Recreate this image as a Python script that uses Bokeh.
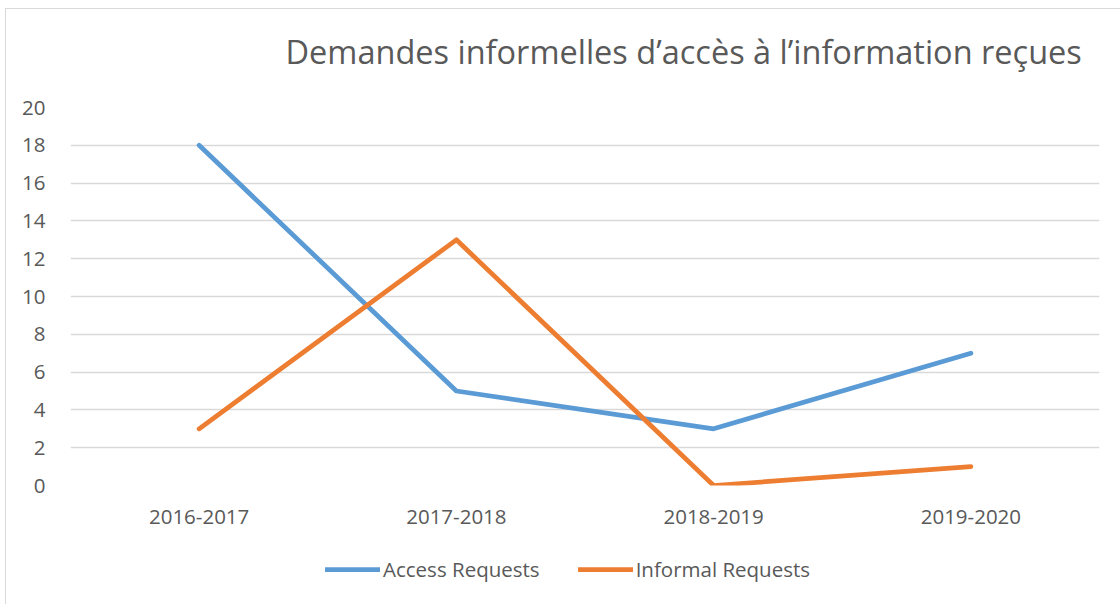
from bokeh.plotting import figure
from bokeh.layouts import column
from bokeh.models import Legend, LegendItem, Range1d, FixedTicker, ColumnDataSource, Label
from bokeh.embed import file_html
from bokeh.resources import INLINE

years = ["2016-2017", "2017-2018", "2018-2019", "2019-2020"]
access_requests = [18, 5, 3, 7]
informal_requests = [3, 13, 0, 1]
y_ticks = [0, 2, 4, 6, 8, 10, 12, 14, 16, 18, 20]
series_names = ["Access Requests", "Informal Requests"]
series_colors = ["#5B9BD5", "#ED7D31"]
title_text = "Demandes informelles d\u2019acc\u00e8s \u00e0 l\u2019information re\u00e7ues"

FONT = "Open Sans"
TXT = "#595959"
LW = 4.75
W = 1114


def strip(h):
    f = figure(width=W, height=h, output_backend="svg", toolbar_location=None,
               x_range=Range1d(100, 101), y_range=Range1d(100, 101),
               x_axis_location=None, y_axis_location=None,
               min_border_left=0, min_border_right=0, min_border_top=0, min_border_bottom=0)
    f.outline_line_color = None
    f.xgrid.grid_line_color = None
    f.ygrid.grid_line_color = None
    return f


# title strip
p0 = strip(80)
p0.add_layout(Label(x=215, y=38, x_units="screen", y_units="screen", text=title_text,
                    text_font=FONT, text_font_size="32.5px", text_color=TXT,
                    text_baseline="alphabetic", text_align="left"))

# main chart
p = figure(x_range=years, y_range=Range1d(0, 20), width=W, height=451,
           output_backend="svg", toolbar_location=None,
           min_border_left=64, min_border_right=21, min_border_top=18,
           min_border_bottom=55)
p.outline_line_color = None

src = ColumnDataSource(dict(x=years, a=access_requests, b=informal_requests))
r1 = p.line("x", "a", source=src, line_color=series_colors[0], line_width=LW,
            line_cap="round", line_join="round")
r2 = p.line("x", "b", source=src, line_color=series_colors[1], line_width=LW,
            line_cap="round", line_join="round")

for ax in (p.xaxis[0], p.yaxis[0]):
    ax.axis_line_color = None
    ax.major_tick_line_color = None
    ax.minor_tick_line_color = None
    ax.major_tick_out = 0
    ax.major_tick_in = 0
    ax.major_label_text_font = FONT
    ax.major_label_text_font_size = "20.5px"
    ax.major_label_text_color = TXT

p.yaxis[0].ticker = FixedTicker(ticks=y_ticks)
p.yaxis[0].major_label_standoff = 25
p.xaxis[0].major_label_standoff = 24

p.xgrid.grid_line_color = None
p.ygrid.grid_line_color = "#D9D9D9"
p.ygrid.grid_line_width = 1.5
p.ygrid.ticker = FixedTicker(ticks=y_ticks)

# legend strip below the chart (its lines lie outside its visible ranges)
p2 = strip(64)
src2 = ColumnDataSource(dict(i=[0, 1, 2, 3], a=access_requests, b=informal_requests))
l1 = p2.line("i", "a", source=src2, line_color=series_colors[0], line_width=LW, line_cap="round")
l2 = p2.line("i", "b", source=src2, line_color=series_colors[1], line_width=LW, line_cap="round")
legend = Legend(items=[LegendItem(label=series_names[0], renderers=[l1]),
                       LegendItem(label=series_names[1], renderers=[l2])],
                orientation="horizontal", location=(255, 21),
                label_text_font=FONT, label_text_font_size="20.5px", label_text_color=TXT,
                glyph_width=55, glyph_height=20, label_standoff=3, spacing=38,
                border_line_color=None, background_fill_alpha=0,
                padding=0, margin=0)
p2.add_layout(legend, "center")

layout = column(p0, p, p2, spacing=0)
layout.styles = {"margin-left": "5px", "margin-top": "8px",
                 "border-left": "1px solid #D9D9D9", "border-top": "1px solid #D9D9D9"}

open("out.html", "w").write(file_html(layout, INLINE))
